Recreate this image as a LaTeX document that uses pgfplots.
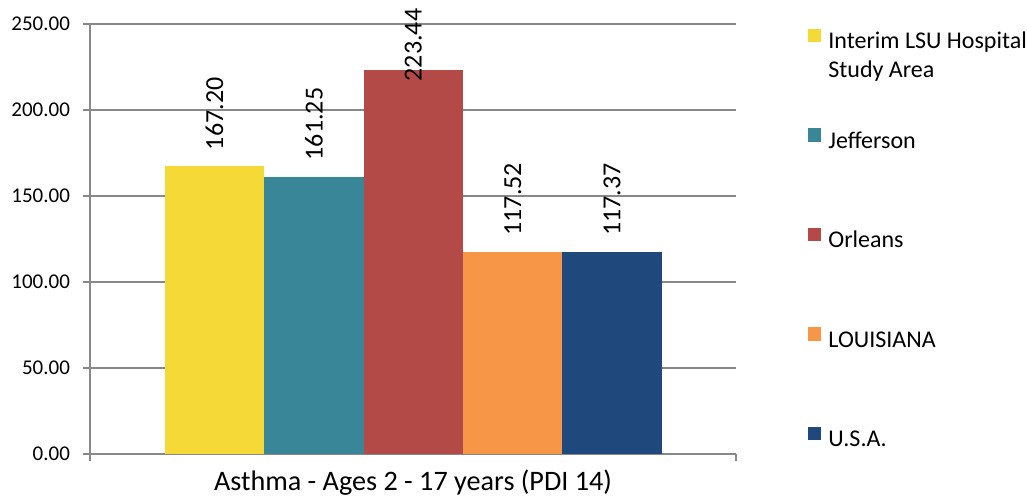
\documentclass[border=0pt]{standalone}
\usepackage{pgfplots}
\pgfplotsset{compat=1.18}
\usepackage{fontspec}
\setmainfont{Carlito}
\definecolor{cyel}{HTML}{F5D936}
\definecolor{cteal}{HTML}{3A8699}
\definecolor{cred}{HTML}{B34A48}
\definecolor{corange}{HTML}{F79646}
\definecolor{cnavy}{HTML}{1F497D}
\definecolor{gridgray}{HTML}{888888}
\begin{document}
\begin{tikzpicture}
\begin{axis}[
  at={(0pt,0pt)}, anchor=south west,
  scale only axis, width=323pt, height=215pt,
  xmin=0, xmax=646, ymin=0, ymax=250,
  ybar, bar width=99.4, bar shift=0pt,
  axis x line*=bottom, axis y line*=left,
  axis line style={draw=gridgray, line width=0.7pt},
  ytick={0,50,100,150,200,250},
  xtick={0,646}, xticklabels={},
  tick align=outside, major tick length=3.5pt,
  tick style={draw=gridgray, line width=0.7pt},
  ymajorgrids, grid style={draw=gridgray, line width=0.7pt},
  /pgf/number format/fixed, /pgf/number format/fixed zerofill,
  /pgf/number format/precision=2, /pgf/number format/assume math mode=true,
  /pgf/number format/1000 sep={},
  yticklabel style={font=\fontsize{10.5}{12}\selectfont, xshift=-3pt},
  xlabel={Asthma - Ages 2 - 17 years (PDI 14)},
  xlabel style={at={(axis description cs:0.5,0)}, anchor=base, yshift=-18.5pt, font=\fontsize{14.1}{16}\selectfont},
  legend style={draw=none, fill=none, inner sep=0pt, outer sep=0pt, anchor=north west,
    at={(1.1115,0.9884)}, row sep=36.75pt,
    nodes={inner sep=0pt, text height=9pt, text depth=3pt, font=\fontsize{12}{14.2}\selectfont},
    /tikz/every odd column/.append style={column sep=3.5pt}},
  legend cell align=left,
  legend image code/.code={\fill[#1] (0pt,0.3pt) rectangle (6.7pt,7pt);},
  nodes near coords,
  nodes near coords style={font=\fontsize{13}{15}\selectfont, inner sep=0pt, yshift=8pt, rotate=90, anchor=west},
]
\addplot[fill=cyel, draw=none] coordinates {(124.5,167.20)};
\addlegendentry{\smash{\parbox[t]{5cm}{Interim LSU Hospital\\Study Area}}}
\addplot[fill=cteal, draw=none] coordinates {(223.9,161.25)};
\addlegendentry{Jefferson}
\addplot[fill=cred, draw=none, nodes near coords style={xshift=-14pt}] coordinates {(323.3,223.44)};
\addlegendentry{Orleans}
\addplot[fill=corange, draw=none] coordinates {(422.7,117.52)};
\addlegendentry{LOUISIANA}
\addplot[fill=cnavy, draw=none] coordinates {(522.1,117.37)};
\addlegendentry{U.S.A.}
\end{axis}
\pgfresetboundingbox
\path (-45pt,-23.5pt) rectangle (468.5pt,227pt);
\end{tikzpicture}
\end{document}
